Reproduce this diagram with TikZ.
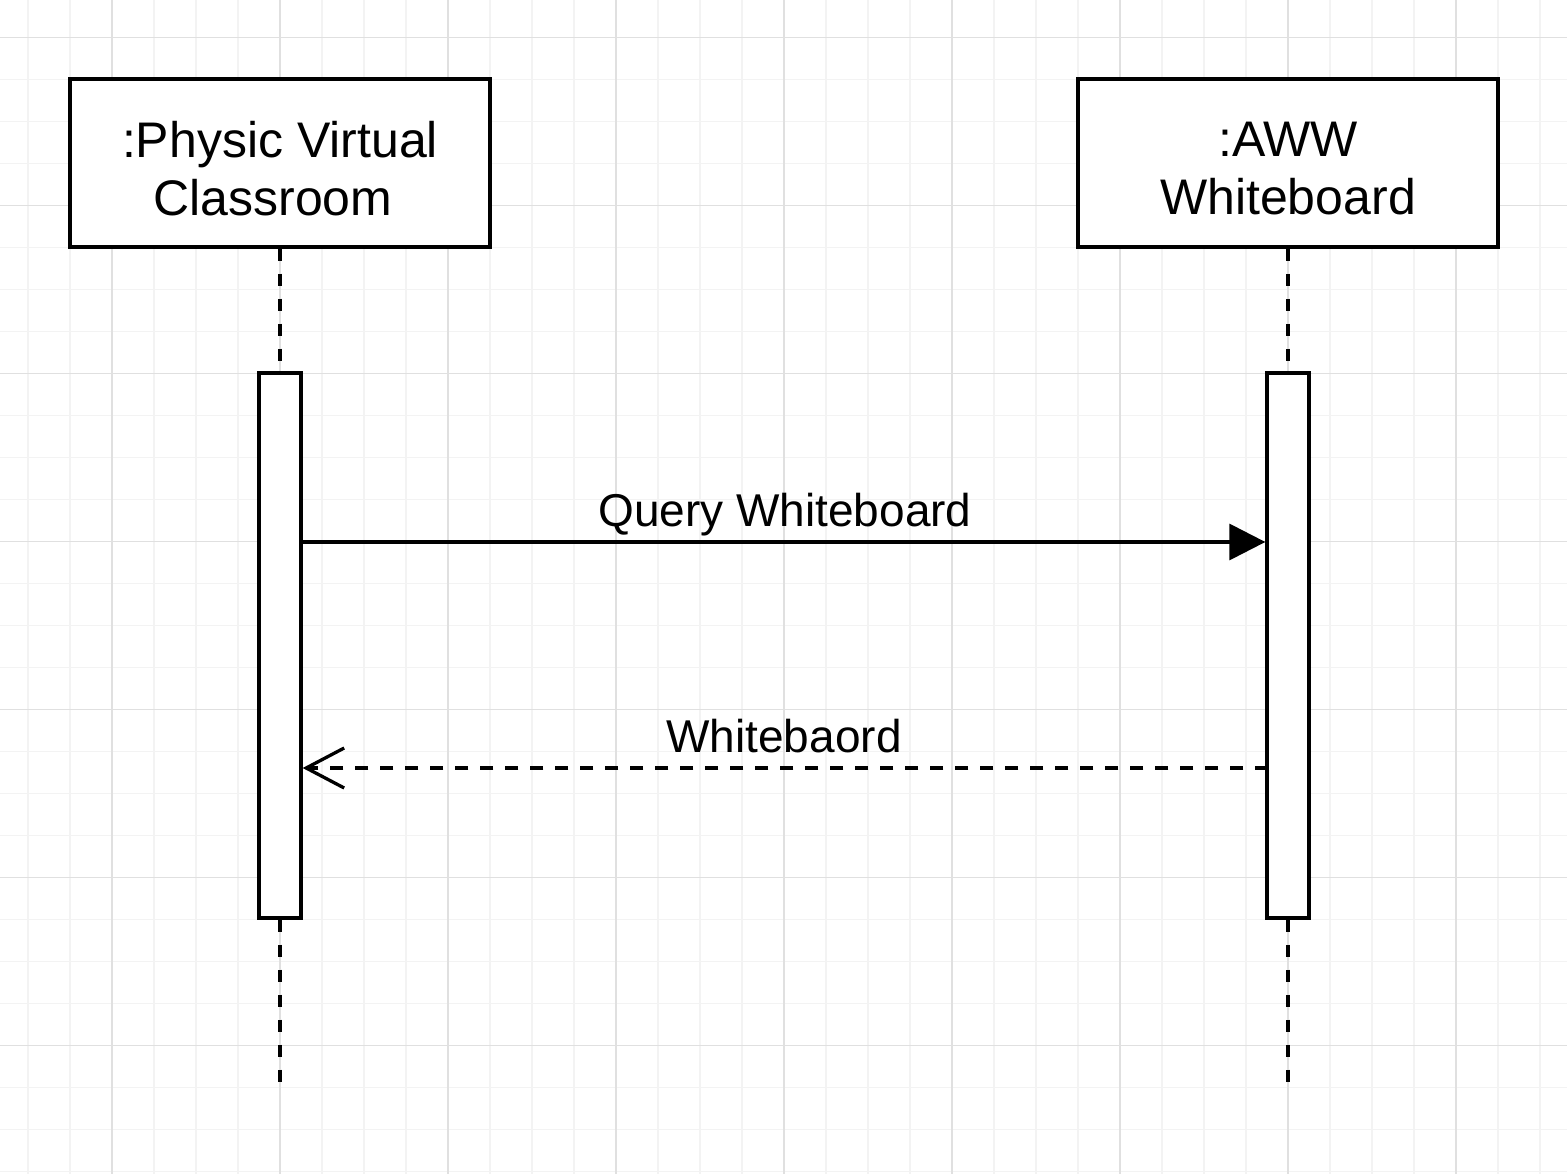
\documentclass[tikz,border=0pt]{standalone}
\usepackage{fontspec}
\setmainfont{Liberation Sans}
\usetikzlibrary{arrows.meta}
\definecolor{gridminor}{HTML}{F3F3F3}
\definecolor{gridmajor}{HTML}{E0E0E0}
\tikzset{
  gminor/.style={draw=gridminor, line width=1.5pt},
  gmajor/.style={draw=gridmajor, line width=1.5pt},
  objbox/.style={draw, line width=3.3pt, fill=white, minimum width=420pt, minimum height=168pt, inner sep=0pt, align=center, font=\fontsize{50}{58}\selectfont},
  actbar/.style={draw, line width=3.3pt, fill=white, minimum width=42pt, minimum height=545pt, inner sep=0pt},
  lifeline/.style={line width=3.3pt, dash pattern=on 12pt off 13pt},
  msglabel/.style={anchor=base, inner sep=0pt, font=\fontsize{46}{54}\selectfont},
  callmsg/.style={line width=3.3pt, -{Triangle[length=36pt,width=36pt]}},
  retmsg/.style={line width=3.3pt, dash pattern=on 13pt off 12pt, -{Straight Barb[length=38pt,width=40pt]}}
}
\begin{document}
\begin{tikzpicture}[x=1pt,y=-1pt]
\fill[white] (0,0) rectangle (1567,1174);
\useasboundingbox (0,0) rectangle (1567,1174);
% grid
\foreach \i in {0,...,36} \draw[gminor] ({28+42*\i},0) -- ({28+42*\i},1174);
\foreach \i in {0,...,27} \draw[gminor] (0,{37.5+42*\i}) -- (1567,{37.5+42*\i});
\foreach \i in {0,...,8} \draw[gmajor] ({112+168*\i},0) -- ({112+168*\i},1174);
\foreach \i in {0,...,6} \draw[gmajor] (0,{37.5+168*\i}) -- (1567,{37.5+168*\i});
% objects
\node[objbox] (pvc) at (280,163) {};
\node[objbox] (aww) at (1288,163) {};
\node[align=center, inner sep=0pt, font=\fontsize{50}{58}\selectfont] (pvct) at (280,168.5) {:Physic Virtual\\\mbox{Classroom\hspace{14pt}}};
\node[align=center, inner sep=0pt, font=\fontsize{50}{58}\selectfont] (awwt) at (1288,168.5) {:AWW\\Whiteboard};
% activation bars
\node[actbar] (bar1) at (280,645.5) {};
\node[actbar] (bar2) at (1288,645.5) {};
\coordinate (end1) at (280,1087);
\coordinate (end2) at (1288,1087);
% lifelines
\draw[lifeline] (pvc.south) -- (bar1.north);
\draw[lifeline] (aww.south) -- (bar2.north);
\draw[lifeline] (bar1.south) -- (end1);
\draw[lifeline] (bar2.south) -- (end2);
% messages
\draw[callmsg] (bar1.east |- {(0,542)}) -- (bar2.west |- {(0,542)});
\node[msglabel] (l1) at (785,526) {Query Whiteboard};
\draw[retmsg] ([xshift=3pt]bar2.west |- {(0,768)}) -- (bar1.east |- {(0,768)});
\node[msglabel] (l2) at (784,752) {Whitebaord};
\end{tikzpicture}
\end{document}
